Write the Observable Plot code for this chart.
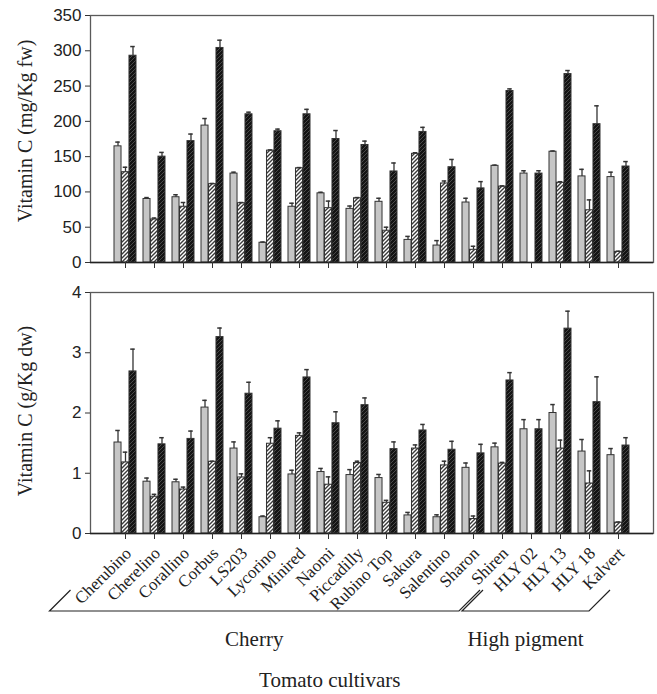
<!DOCTYPE html>
<html>
<head>
<meta charset="utf-8">
<script src="https://cdn.jsdelivr.net/npm/d3@7"></script>
<script src="https://cdn.jsdelivr.net/npm/@observablehq/plot@0.6"></script>
<style>
  html, body { margin: 0; padding: 0; background: #fff; }
  #chart { width: 657px; }
  #chart svg { display: block; }
</style>
</head>
<body>
<div id="chart"></div>
<script>
// ---------- data ----------
const cultivars = ["Cherubino", "Cherelino", "Corallino", "Corbus", "LS203", "Lycorino", "Minired", "Naomi", "Piccadilly", "Rubino Top", "Sakura", "Salentino", "Sharon", "Shiren", "HLY 02", "HLY 13", "HLY 18", "Kalvert"];
const seriesNames = ["Series 1", "Series 2", "Series 3"];
const groups = [
  {name: "Cherry", first: "Cherubino", last: "Sharon"},
  {name: "High pigment", first: "Shiren", last: "Kalvert"}
];
const xTitle = "Tomato cultivars";

// top panel: mg/Kg fresh weight
const fwTitle = "Vitamin C (mg/Kg fw)";
const fwTicks = [0, 50, 100, 150, 200, 250, 300, 350];
const fwS1 = [164.6, 90, 92.5, 194, 126, 28, 79, 98, 76, 86, 32, 24, 85, 137, 126, 157, 122, 121];
const fwS1Err = [6, 2, 3.5, 10, 2, 1, 5, 1.5, 4, 5, 5, 7, 6, 1, 4, 1, 10, 7];
const fwS2 = [128, 61, 79, 111, 84, 158.5, 133.5, 77, 91, 45, 154, 112, 18, 107.5, null, 113, 74, 15];
const fwS2Err = [7, 2, 6, 1, 1, 1, 1, 10, 1, 5, 1.5, 3.5, 5, 1, null, 1.5, 14.7, 1];
const fwS3 = [293, 150, 172, 304, 210, 186, 210, 175, 166.5, 129, 185, 135, 105, 243, 126, 267, 196, 136];
const fwS3Err = [13, 6, 10, 11, 3, 3, 7, 12, 5.5, 12, 6.5, 11, 9.6, 3, 4, 5, 26, 7];

// bottom panel: g/Kg dry weight
const dwTitle = "Vitamin C (g/Kg dw)";
const dwTicks = [0, 1, 2, 3, 4];
const dwS1 = [1.51, 0.86, 0.85, 2.09, 1.41, 0.27, 0.98, 1.02, 0.97, 0.92, 0.30, 0.27, 1.09, 1.43, 1.73, 2.0, 1.36, 1.30];
const dwS1Err = [0.2, 0.06, 0.05, 0.12, 0.11, 0.02, 0.07, 0.06, 0.09, 0.06, 0.05, 0.04, 0.08, 0.07, 0.16, 0.14, 0.2, 0.11];
const dwS2 = [1.18, 0.61, 0.73, 1.19, 0.93, 1.49, 1.62, 0.81, 1.17, 0.51, 1.41, 1.13, 0.24, 1.16, null, 1.41, 0.83, 0.18];
const dwS2Err = [0.17, 0.04, 0.04, 0.01, 0.06, 0.1, 0.05, 0.13, 0.03, 0.04, 0.06, 0.07, 0.05, 0.02, null, 0.14, 0.21, 0.01];
const dwS3 = [2.69, 1.48, 1.57, 3.26, 2.32, 1.74, 2.59, 1.83, 2.13, 1.40, 1.71, 1.39, 1.33, 2.54, 1.73, 3.40, 2.18, 1.46];
const dwS3Err = [0.37, 0.11, 0.13, 0.15, 0.19, 0.13, 0.13, 0.19, 0.12, 0.12, 0.1, 0.14, 0.15, 0.13, 0.16, 0.29, 0.42, 0.13];

(function () {
function toRows(vals, errs) {
  const rows = [];
  vals.forEach((arr, s) => arr.forEach((v, i) => {
    if (v != null) rows.push({c: cultivars[i], s, v, e: errs[s][i] || 0});
  }));
  return rows;
}

const W = 657, ML = 90, MR = 4;
const PI = 0.24, PO = 0.64;
const step = (W - ML - MR) / (cultivars.length - PI + 2 * PO);
const bw = step * (1 - PI);
const sw = bw / 3;
const SERIF = "'Liberation Serif', 'Times New Roman', serif";
const SANS = "'Liberation Sans', Arial, sans-serif";

function addDefs(svg, pid) {
  const defs = d3.select(svg).insert("defs", ":first-child");
  const h = defs.append("pattern").attr("id", pid + "h").attr("patternUnits", "userSpaceOnUse")
    .attr("width", 4).attr("height", 4);
  h.append("rect").attr("width", 4).attr("height", 4).attr("fill", "#fff");
  h.append("path").attr("d", "M-1,1 l2,-2 M0,4 l4,-4 M3,5 l2,-2").attr("stroke", "#3a3a3a").attr("stroke-width", 1.4);
  const k = defs.append("pattern").attr("id", pid + "k").attr("patternUnits", "userSpaceOnUse")
    .attr("width", 4).attr("height", 4);
  k.append("rect").attr("width", 4).attr("height", 4).attr("fill", "#141414");
  k.append("path").attr("d", "M-1,1 l2,-2 M0,4 l4,-4 M3,5 l2,-2").attr("stroke", "#4a4a4a").attr("stroke-width", 1);
}

function panel({rows, ticks, title, titleDy, height, marginTop, marginBottom, pid, extra = []}) {
  const fills = ["#c6c6c6", `url(#${pid}h)`, `url(#${pid}k)`];
  const marks = [];
  for (let s = 0; s < 3; s++) {
    const data = rows.filter(d => d.s === s);
    const off = (s - 1) * sw;
    marks.push(Plot.barY(data, {
      x: "c", y: "v", fill: fills[s], stroke: "#333", strokeWidth: 1,
      insetLeft: s * sw, insetRight: (2 - s) * sw
    }));
    marks.push(Plot.ruleX(data, {
      x: "c", y1: "v", y2: d => d.v + d.e, dx: off, stroke: "#333", strokeWidth: 1.3
    }));
    marks.push(Plot.tickY(data, {
      x: "c", y: d => d.v + d.e, stroke: "#333", strokeWidth: 1.5,
      insetLeft: bw / 2 + off - 2.5, insetRight: bw / 2 - off - 2.5
    }));
  }
  const chart = Plot.plot({
    width: W, height, marginLeft: ML, marginRight: MR, marginTop, marginBottom,
    style: {background: "white", overflow: "visible"},
    x: {type: "band", domain: cultivars, paddingInner: PI, paddingOuter: PO, axis: null},
    y: {domain: [ticks[0], ticks[ticks.length - 1]], axis: null},
    marks: [
      Plot.frame({stroke: "#5a5a5a", strokeWidth: 1.3}),
      ...marks,
      Plot.ruleY([0], {stroke: "#222", strokeWidth: 1.3}),
      Plot.axisX({tickSize: 6, tickFormat: () => "", label: null, stroke: "#333"}),
      Plot.axisY({ticks, tickFormat: d => String(d), tickSize: 5, tickPadding: 4, fontSize: 17, fontFamily: SANS, label: null, stroke: "#333", fill: "#222"}),
      Plot.text([title], {frameAnchor: "left", textAnchor: "middle", dx: -65, dy: titleDy, rotate: -90, fontSize: 20, fontFamily: SERIF, fill: "#222"}),
      ...extra
    ]
  });
  addDefs(chart, pid);
  return chart;
}

const root = document.getElementById("chart");

const topChart = panel({
  rows: toRows([fwS1, fwS2, fwS3], [fwS1Err, fwS2Err, fwS3Err]),
  ticks: fwTicks, title: fwTitle, titleDy: -8, height: 278, marginTop: 15, marginBottom: 16, pid: "t"
});
root.appendChild(topChart);

const bottomChart = panel({
  rows: toRows([dwS1, dwS2, dwS3], [dwS1Err, dwS2Err, dwS3Err]),
  ticks: dwTicks, title: dwTitle, titleDy: -2, height: 416, marginTop: 14, marginBottom: 161, pid: "b",
  extra: [
    Plot.text(cultivars, {
      x: d => d, frameAnchor: "bottom", dy: 17, dx: 3, rotate: -45,
      textAnchor: "end", lineAnchor: "middle", fontSize: 17, fontFamily: SERIF, fill: "#222"
    })
  ]
});
root.appendChild(bottomChart);

// group brackets positioned from the x scale
const xs = bottomChart.scale("x");
const cx = c => xs.apply(c) + xs.bandwidth / 2;
const baseY = 333, rise = 21;
const g = d3.select(bottomChart).append("g").attr("fill", "none").attr("stroke", "#222").attr("stroke-width", 1.2);
const ends = [
  {left: cx(groups[0].first) - 75.5, right: cx(groups[0].last) - 14},
  {left: cx(groups[1].first) - 40, right: cx(groups[1].last) - 29}
];
ends.forEach((e, i) => {
  g.append("path").attr("d",
    `M${e.left + rise},${baseY - rise} L${e.left},${baseY} L${e.right},${baseY} L${e.right + rise},${baseY - rise}`);
});
const tx = d3.select(bottomChart).append("g").attr("font-family", SERIF).attr("font-size", 21)
  .attr("fill", "#222").attr("text-anchor", "middle");
groups.forEach((grp, i) => {
  tx.append("text").attr("x", (ends[i].left + ends[i].right) / 2).attr("y", baseY + 35).text(grp.name);
});
tx.append("text").attr("x", (ends[0].left + ends[1].right + rise) / 2).attr("y", baseY + 76).text(xTitle);
})();
</script>
</body>
</html>
